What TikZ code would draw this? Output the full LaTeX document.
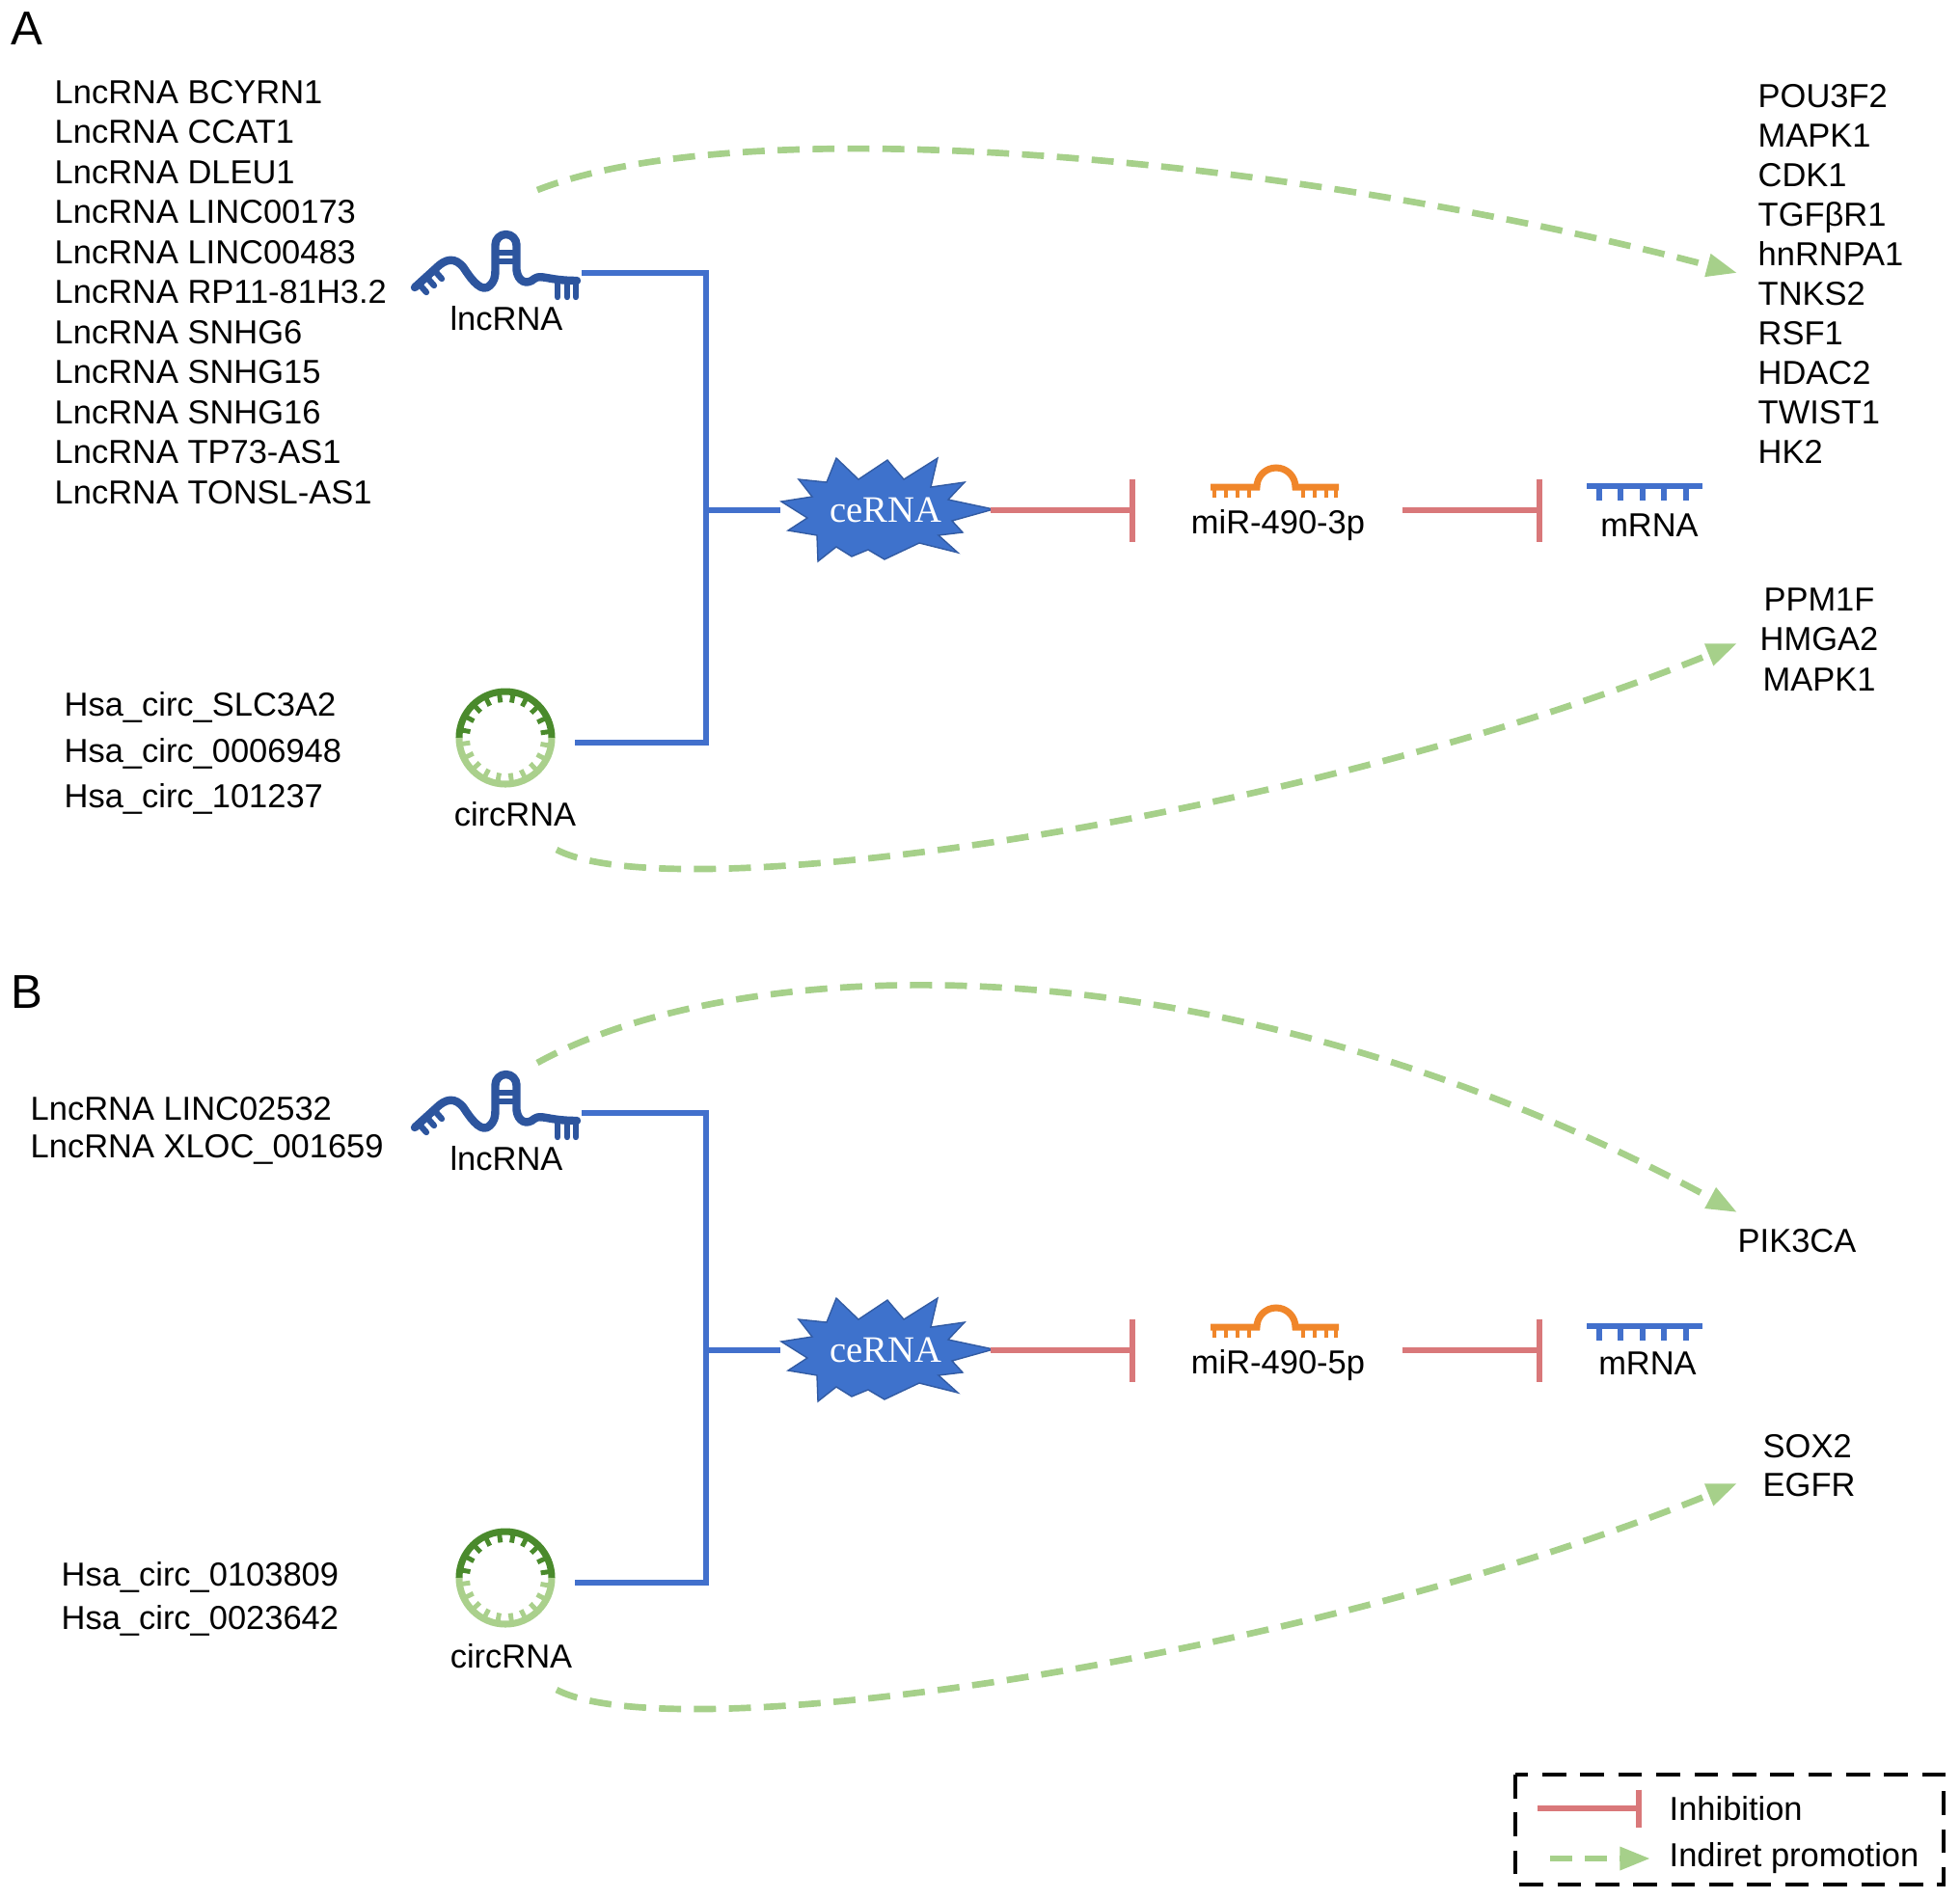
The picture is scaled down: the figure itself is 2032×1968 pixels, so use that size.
\documentclass[tikz,border=0pt]{standalone}
\usepackage{fontspec}
\setmainfont{Liberation Sans}
\newfontfamily\cerfont{Liberation Serif}
\usetikzlibrary{arrows.meta,shapes.geometric,positioning}

\definecolor{lncblue}{RGB}{45,85,158}
\definecolor{connblue}{RGB}{66,112,204}
\definecolor{starblue}{RGB}{62,114,204}
\definecolor{inhred}{RGB}{217,120,122}
\definecolor{promgreen}{RGB}{166,208,138}
\definecolor{mirorange}{RGB}{240,134,42}
\definecolor{circdark}{RGB}{74,138,44}
\definecolor{circlight}{RGB}{170,208,140}

% icons, #1 = vertical offset of the panel
\newcommand{\drawlnc}[1]{%
  \begin{scope}[shift={(0,#1)}, lncblue, line cap=round, line join=round]
    \draw[line width=2.4pt] (430,298) -- (452,278)
      .. controls (462,268) and (472,266) .. (481,278)
      .. controls (490,292) and (500,304) .. (508,296)
      .. controls (512,292) and (513.5,288) .. (513.5,280)
      -- (513.5,254) arc (180:360:11) -- (535.5,280)
      .. controls (537,292) and (546,296) .. (554,289)
      .. controls (561,284) and (568,291) .. (598,291);
    \draw[line width=1.6pt] (517,262) -- (532,262) (517,271) -- (532,271);
    \foreach \tx/\ty in {434/294,442/287,450/280}
      \draw[line width=1.8pt] (\tx,\ty) -- ++(8,9);
    \foreach \tx in {578,588,597}
      \draw[line width=1.8pt] (\tx,291) -- (\tx,308);
  \end{scope}}
\newcommand{\drawcirc}[1]{%
  \begin{scope}[shift={(0,#1)}]
    \draw[circdark, line width=2pt] (476,765) arc (180:360:48);
    \draw[circlight, line width=2pt] (572,765) arc (0:180:48);
    \foreach \a in {190,208,...,352}
      \draw[circdark, line width=1.4pt] (524,765) ++(\a:48) -- ++(\a:-11);
    \foreach \a in {10,28,...,172}
      \draw[circlight, line width=1.4pt] (524,765) ++(\a:48) -- ++(\a:-11);
  \end{scope}}
\newcommand{\drawmir}[1]{%
  \begin{scope}[shift={(0,#1)}, mirorange]
    \draw[line width=2pt] (1255,505) -- (1303,505) arc (180:360:20) -- (1388,505);
    \foreach \tx in {1259,1271,1283,1295,1351,1363,1375,1385}
      \draw[line width=1.4pt] (\tx,505) -- (\tx,516);
  \end{scope}}
\newcommand{\drawmrna}[1]{%
  \begin{scope}[shift={(0,#1)}, connblue]
    \draw[line width=1.8pt] (1645,504) -- (1765,504);
    \foreach \tx in {1658,1680,1703,1725,1748}
      \draw[line width=1.5pt] (\tx,504) -- (\tx,519);
  \end{scope}}
\newcommand{\drawstar}[1]{%
  \fill[starblue, draw=starblue!80!black, line width=.4pt, shift={(0,#1)}]
    (810,520) -- (842,515) -- (828,497) -- (857,500) -- (867,475) -- (890,497)
    -- (920,477) -- (937,497) -- (972,475) -- (965,505) -- (1000,500) -- (983,518)
    -- (1030,528) -- (987,540) -- (998,552) -- (973,555) -- (993,573) -- (953,563)
    -- (917,580) -- (900,570) -- (883,577) -- (867,567) -- (848,582) -- (847,555)
    -- (817,550) -- (837,537) -- cycle;}

\begin{document}
\begin{tikzpicture}[
x=0.01cm, y=-0.01cm,
gene/.style={font=\fontsize{9.8}{#1}\selectfont, anchor=west, align=left, inner sep=0pt},
gene/.default=11.8,
rnalabel/.style={font=\fontsize{9.8}{11.8}\selectfont, inner sep=0pt},
panel/.style={font=\fontsize{14}{16}\selectfont, inner sep=0pt},
cerna/.style={ellipse, minimum width=2.16cm, minimum height=1.1cm, inner sep=0pt,
  text=white, font=\cerfont\fontsize{11}{13}\selectfont},
conn/.style={connblue, line width=1.7pt},
inhib/.style={inhred, line width=1.7pt, -{Bar[width=6.5mm]}},
prom/.style={promgreen, line width=1.9pt, dash pattern=on 6.5pt off 3.8pt,
  -{Triangle[length=9pt,width=6.5pt]}},
legbox/.style={black, line width=1.4pt, dash pattern=on 7pt off 4.2pt}]
\useasboundingbox (0,0) rectangle (2032,1968);

% Panel A
\node[panel] (labA) at (28,30) {A};
\node[gene] (lncListA) at (56,303) {LncRNA BCYRN1\\LncRNA CCAT1\\LncRNA DLEU1\\LncRNA LINC00173\\LncRNA LINC00483\\LncRNA RP11-81H3.2\\LncRNA SNHG6\\LncRNA SNHG15\\LncRNA SNHG16\\LncRNA TP73-AS1\\LncRNA TONSL-AS1};
\node[gene=13.5] (circListA) at (66,781) {Hsa\_circ\_SLC3A2\\Hsa\_circ\_0006948\\Hsa\_circ\_101237};
\drawlnc{0}
\node[rnalabel] (lncA) at (525,330) {lncRNA};
\drawcirc{0}
\node[rnalabel] (circA) at (534,844) {circRNA};
\coordinate (lncEndA) at (603,283);
\coordinate (circEndA) at (596,770);
\coordinate (jA) at (732,529);
\drawstar{0}
\node[cerna] (cerA) at (918,529) {ceRNA};
\draw[conn] (lncEndA) -| (jA);
\draw[conn] (circEndA) -| (jA);
\draw[conn] (jA) -- (cerA.west);
\drawmir{0}
\node[rnalabel] (mirA) at (1325,545) {miR-490-3p};
\drawmrna{0}
\node[rnalabel] (mrnaA) at (1710,545) {mRNA};
\coordinate (barA1) at (1177,529);
\coordinate (inhA2) at (1454,529);
\coordinate (barA2) at (1599,529);
\draw[inhib] (cerA.east) -- (barA1);
\draw[inhib] (inhA2) -- (barA2);
\node[gene=11.65] (tgtA1) at (1822,284) {POU3F2\\MAPK1\\CDK1\\TGFβR1\\hnRNPA1\\TNKS2\\RSF1\\HDAC2\\TWIST1\\HK2};
\node[gene=11.9, align=center, anchor=center] (tgtA2) at (1886,663) {PPM1F\\HMGA2\\MAPK1};
\coordinate (promA1) at (557,197);
\coordinate (tipA1) at (1801,283);
\coordinate (promA2) at (577,881);
\coordinate (tipA2) at (1801,667);
\draw[prom] (promA1) .. controls (780,110) and (1350,165) .. (tipA1);
\draw[prom] (promA2) .. controls (700,945) and (1350,850) .. (tipA2);

% Panel B
\node[panel] (labB) at (28,1029) {B};
\node[gene=11.1] (lncListB) at (31,1172) {LncRNA LINC02532\\LncRNA XLOC\_001659};
\node[gene=12.8] (circListB) at (63,1658) {Hsa\_circ\_0103809\\Hsa\_circ\_0023642};
\drawlnc{871}
\node[rnalabel] (lncB) at (525,1201) {lncRNA};
\drawcirc{871}
\node[rnalabel] (circB) at (530,1717) {circRNA};
\coordinate (lncEndB) at (603,1154);
\coordinate (circEndB) at (596,1641);
\coordinate (jB) at (732,1400);
\drawstar{871}
\node[cerna] (cerB) at (918,1400) {ceRNA};
\draw[conn] (lncEndB) -| (jB);
\draw[conn] (circEndB) -| (jB);
\draw[conn] (jB) -- (cerB.west);
\drawmir{871}
\node[rnalabel] (mirB) at (1325,1416) {miR-490-5p};
\drawmrna{871}
\node[rnalabel] (mrnaB) at (1708,1414) {mRNA};
\coordinate (barB1) at (1177,1400);
\coordinate (inhB2) at (1454,1400);
\coordinate (barB2) at (1599,1400);
\draw[inhib] (cerB.east) -- (barB1);
\draw[inhib] (inhB2) -- (barB2);
\node[rnalabel] (tgtB1) at (1863,1287) {PIK3CA};
\node[gene=11.4] (tgtB2) at (1827,1520) {SOX2\\EGFR};
\coordinate (promB1) at (557,1102);
\coordinate (tipB1) at (1801,1257);
\coordinate (promB2) at (577,1752);
\coordinate (tipB2) at (1801,1538);
\draw[prom] (promB1) .. controls (760,990) and (1250,960) .. (tipB1);
\draw[prom] (promB2) .. controls (700,1816) and (1350,1721) .. (tipB2);

% Legend
\draw[legbox] (1571,1840) rectangle (2015,1954);
\node[gene] (legInh) at (1730,1875) {Inhibition};
\node[gene] (legProm) at (1730,1927) {Indiret promotion};
\coordinate (legI1) at (1594,1875);
\coordinate (legI2) at (1702,1875);
\coordinate (legP1) at (1607,1927);
\coordinate (legP2) at (1711,1927);
\draw[inhib, -{Bar[width=3.9mm]}] (legI1) -- (legI2);
\draw[prom] (legP1) -- (legP2);

\end{tikzpicture}
\end{document}
